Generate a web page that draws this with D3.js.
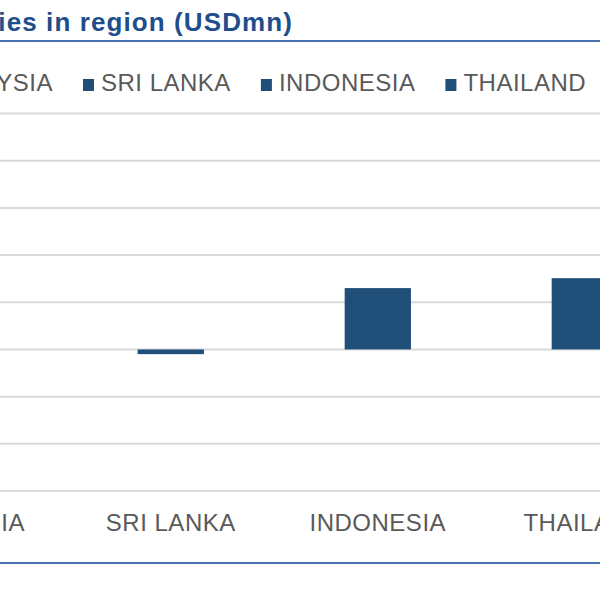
<!DOCTYPE html>
<html><head><meta charset="utf-8">
<script src="https://cdn.jsdelivr.net/npm/d3@7"></script>
<style>html,body{margin:0;padding:0;background:#fff;overflow:hidden}</style>
</head><body>
<svg id="c" width="600" height="600"></svg>
<script>
const titleText = "ies in region (USDmn)";
const categories = ["MALAYSIA", "SRI LANKA", "INDONESIA", "THAILAND"];
const values = [260, -10, 130, 151];
const yTicks = [-300, -200, -100, 0, 100, 200, 300, 400, 500];

const svg = d3.select("#c");
const font = "'Liberation Sans', Arial, sans-serif";
const barColor = "#1f4e79";
const textColor = "#595959";

const x = d3.scaleBand().domain(categories).range([-139.7, 688.3]).paddingInner(0.68).paddingOuter(0.34);
const y = d3.scaleLinear().domain([-300, 500]).range([491, 113.5]);

// title
svg.append("text").attr("x", 293).attr("y", 31).attr("text-anchor", "end")
  .attr("font-family", font).attr("font-weight", "bold").attr("font-size", 26)
  .attr("letter-spacing", 1.1)
  .attr("fill", "#1f4e8c").text(titleText);
svg.append("line").attr("x1", 0).attr("x2", 600).attr("y1", 41).attr("y2", 41)
  .attr("stroke", "#4a72b0").attr("stroke-width", 2);
svg.append("line").attr("x1", 0).attr("x2", 600).attr("y1", 563).attr("y2", 563)
  .attr("stroke", "#4a72b0").attr("stroke-width", 2);

// gridlines
svg.append("g").selectAll("line").data(yTicks).join("line")
  .attr("x1", 0).attr("x2", 600).attr("y1", d => y(d)).attr("y2", d => y(d))
  .attr("stroke", "#d9d9d9").attr("stroke-width", 2);

// bars
svg.append("g").selectAll("rect").data(categories).join("rect")
  .attr("x", d => x(d)).attr("width", x.bandwidth())
  .attr("y", (d, i) => y(Math.max(0, values[i])))
  .attr("height", (d, i) => Math.abs(y(values[i]) - y(0)))
  .attr("fill", barColor);

// category labels
svg.append("g").selectAll("text").data(categories).join("text")
  .attr("x", d => x(d) + x.bandwidth() / 2).attr("y", 531).attr("text-anchor", "middle")
  .attr("font-family", font).attr("font-size", 24).attr("letter-spacing", 0.5)
  .attr("fill", textColor).text(d => d);

// legend
const lg = svg.append("g");
const items = lg.selectAll("g").data(categories).join("g");
items.append("rect").attr("width", 11).attr("height", 12).attr("y", 79).attr("fill", barColor);
items.append("text").attr("x", 18).attr("y", 91).attr("font-family", font).attr("font-size", 24)
  .attr("letter-spacing", 0.5).attr("fill", textColor).text(d => d);
const widths = [];
items.each(function () { widths.push(d3.select(this).select("text").node().getComputedTextLength()); });
const pos = [];
pos[1] = 83; // SRI LANKA square
for (let i = 2; i < categories.length; i++) pos[i] = pos[i - 1] + 18 + widths[i - 1] + 30;
pos[0] = pos[1] - 30 - widths[0] - 18;
items.attr("transform", (d, i) => `translate(${pos[i]},0)`);
</script>
</body></html>
